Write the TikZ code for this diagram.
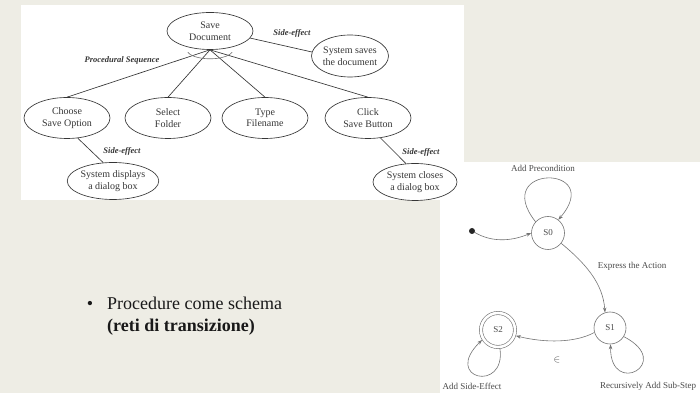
\documentclass[tikz,border=0pt]{standalone}
\usepackage{fontspec}
\setmainfont{Liberation Serif}
\usetikzlibrary{arrows.meta,shapes.geometric,calc}
\definecolor{slidebg}{HTML}{EEEDE5}
\definecolor{inkdark}{HTML}{363636}
\definecolor{inkgray}{HTML}{747474}
\definecolor{txtgray}{HTML}{4A4A4A}
\tikzset{
  task/.style={ellipse, draw=inkdark, line width=0.65pt, inner sep=0pt,
    align=center, text=inkdark, font=\fontsize{10}{11.5}\selectfont},
  link/.style={draw=inkdark, line width=0.65pt},
  role/.style={inner sep=0pt, text=inkdark,
    font=\fontsize{8.5}{10}\selectfont\bfseries\itshape},
  state/.style={circle, draw=inkgray, line width=0.6pt, minimum size=33pt,
    inner sep=0pt, text=txtgray, font=\fontsize{9}{10}\selectfont},
  trans/.style={draw=inkgray, line width=0.6pt,
    -{Stealth[length=5pt,width=3.5pt]}},
  tlabel/.style={inner sep=0pt, text=txtgray, font=\fontsize{9}{10}\selectfont},
  slidetext/.style={inner sep=0pt, text=black!90,
    font=\fontsize{18}{22}\selectfont}
}
\begin{document}
\begin{tikzpicture}[x=1pt,y=1pt]
  % slide background and the two white figure panels
  \fill[slidebg] (0,0) rectangle (700,393);
  \useasboundingbox (0,0) rectangle (700,393);
  \fill[white] (21,193) rectangle (464,388);
  \fill[white] (440,0) rectangle (700,231);

  % ---- task tree ----
  \node[task, minimum width=86pt, minimum height=37pt] (save) at (210,362) {Save\\Document};
  \node[task, minimum width=77pt, minimum height=42pt] (saves) at (350,337) {System saves\\the document};
  \node[task, minimum width=86pt, minimum height=41pt] (choose) at (67,275) {Choose\\Save Option};
  \node[task, minimum width=86pt, minimum height=41pt] (select) at (168,275) {Select\\Folder};
  \node[task, minimum width=86pt, minimum height=41pt] (type) at (265,275) {Type\\Filename};
  \node[task, minimum width=86pt, minimum height=41pt] (click) at (368,275) {Click\\Save Button};
  \node[task, minimum width=78pt, minimum height=37pt] (disp) at (113,212) {System displays\\a dialog box};
  \node[task, minimum width=84pt, minimum height=37pt] (close) at (415,211) {System closes\\a dialog box};

  \draw[link] (save.south) -- (choose.north);
  \draw[link] (save.south) -- (select.north);
  \draw[link] (save.south) -- (type.north);
  \draw[link] (save.south) -- (click.north);
  \draw[link] (save.-10) -- (saves.174);
  \draw[link] (choose.-62) -- (disp.118);
  \draw[link] (click.-58) -- (close.116);

  % sequence arc across the four decomposition links
  \coordinate (apex) at (save.south);
  \draw[draw=inkgray, line width=0.6pt] ($(apex)+(196:23 and 9)$) arc[start angle=196, end angle=344, x radius=23, y radius=9];

  \node[role] (procseq) at (122,333) {Procedural Sequence};
  \node[role] (setop) at (292,360) {Side-effect};
  \node[role] (seleft) at (122,242) {Side-effect};
  \node[role] (seright) at (421,241) {Side-effect};

  % ---- transition network ----
  \node[state] (s0) at (548,160) {S0};
  \node[state, minimum size=32pt] (s1) at (610,65) {S1};
  \node[state, minimum size=34pt, double, double distance=2.6pt, outer sep=1.8pt] (s2) at (498,63) {S2};
  \fill[black!85] (472,162) circle (3pt);
  \coordinate (init) at (474,161);

  \draw[trans] (init) .. controls (492,150) and (512,152) .. (s0.west);
  \draw[trans] (s0.138) .. controls (490,229) and (606,229) .. (s0.52);
  \draw[trans] (s0.-38) .. controls (585,130) and (603,110) .. (s1.108);
  \draw[trans] (s1.-32) .. controls (675,30) and (610,-5) .. (s1.-88);
  \draw[trans] (s1.196) .. controls (575,50) and (545,50) .. (s2.-18);
  \draw[trans] (s2.-84) .. controls (506,0) and (442,14) .. (s2.-148);

  \node[tlabel] (lpre) at (543,225) {Add Precondition};
  \node[tlabel] (lexp) at (632,127) {Express the Action};
  \node[inner sep=0pt, text=txtgray, font=\fontsize{10}{10}\selectfont] (leps) at (557,33) {$\in$};
  \node[tlabel] (lrec) at (648,7) {Recursively Add Sub-Step};
  \node[tlabel] (lside) at (472,7) {Add Side-Effect};

  % ---- bullet text ----
  \node[slidetext] (dot) at (90,88) {\textbullet};
  \node[slidetext, anchor=west, align=left] (proc) at (107,77) {Procedure come schema\\\textbf{(reti di transizione)}};
\end{tikzpicture}
\end{document}
